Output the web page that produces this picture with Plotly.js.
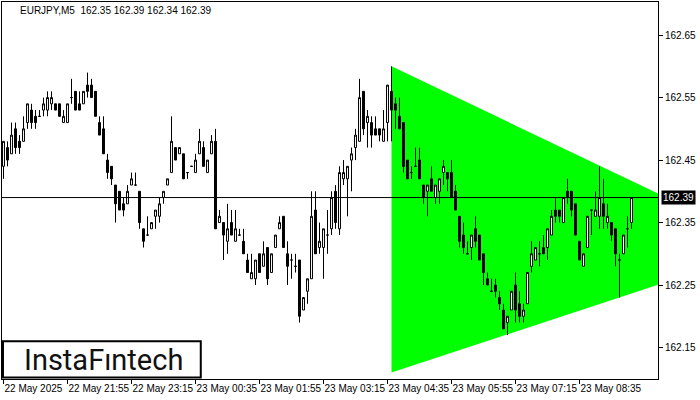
<!DOCTYPE html>
<html>
<head>
<meta charset="utf-8">
<script src="https://cdn.plot.ly/plotly-3.0.1.min.js"></script>
<style>html,body{margin:0;padding:0;background:#fff;}#chart{width:700px;height:400px;}</style>
</head>
<body>
<div id="chart"></div>
<script>
// ---- Data (EURJPY, M5) ----
const symbolTitle = "EURJPY,M5  162.35 162.39 162.34 162.39";
const barIndex = Array.from({length: 158}, (_, i) => i);
const openP = [
162.44,162.47,162.46,162.50,162.48,162.48,162.51,162.53,162.52,162.52,
162.53,162.53,162.54,162.54,162.54,162.51,162.51,162.55,162.56,162.54,
162.54,162.57,162.57,162.56,162.51,162.50,162.45,162.44,162.41,162.40,
162.38,162.38,162.41,162.41,162.40,162.34,162.33,162.34,162.36,162.36,
162.39,162.41,162.43,162.47,162.46,162.46,162.43,162.44,162.43,162.46,
162.47,162.43,162.46,162.48,162.35,162.35,162.32,162.35,162.32,162.33,
162.32,162.29,162.26,162.26,162.30,162.28,162.31,162.27,162.31,162.34,
162.36,162.30,162.29,162.28,162.29,162.21,162.24,162.26,162.37,162.31,
162.31,162.33,162.34,162.40,162.34,162.42,162.42,162.45,162.47,162.48,
162.56,162.51,162.51,162.50,162.50,162.48,162.51,162.56,162.54,162.52,
162.51,162.45,162.43,162.44,162.45,162.41,162.40,162.42,162.39,162.40,
162.43,162.43,162.43,162.40,162.36,162.33,162.30,162.31,162.34,162.33,
162.30,162.26,162.24,162.25,162.23,162.21,162.19,162.21,162.25,162.22,
162.20,162.22,162.28,162.29,162.30,162.31,162.31,162.33,162.37,162.37,
162.35,162.40,162.40,162.38,162.32,162.28,162.31,162.37,162.36,162.36,
162.38,162.35,162.35,162.34,162.29,162.30,162.34,162.35];
const highP = [
162.48,162.48,162.51,162.51,162.49,162.52,162.54,162.54,162.53,162.53,
162.55,162.56,162.56,162.54,162.54,162.53,162.54,162.58,162.56,162.56,
162.56,162.59,162.58,162.56,162.52,162.52,162.46,162.44,162.41,162.40,
162.39,162.41,162.43,162.43,162.40,162.34,162.36,162.35,162.37,162.39,
162.40,162.42,162.52,162.47,162.47,162.46,162.43,162.44,162.46,162.50,
162.48,162.45,162.49,162.50,162.37,162.35,162.38,162.37,162.37,162.34,
162.34,162.30,162.30,162.29,162.30,162.32,162.31,162.30,162.33,162.36,
162.36,162.32,162.30,162.30,162.29,162.23,162.26,162.40,162.40,162.35,
162.34,162.37,162.40,162.41,162.44,162.45,162.44,162.47,162.50,162.58,
162.56,162.53,162.52,162.52,162.50,162.53,162.57,162.60,162.55,162.55,
162.51,162.45,162.44,162.47,162.47,162.41,162.41,162.44,162.41,162.42,
162.45,162.43,162.45,162.41,162.36,162.35,162.32,162.33,162.36,162.33,
162.30,162.27,162.26,162.26,162.24,162.22,162.20,162.24,162.27,162.24,
162.22,162.27,162.32,162.31,162.32,162.33,162.34,162.37,162.39,162.37,
162.39,162.42,162.40,162.38,162.32,162.30,162.36,162.37,162.40,162.44,
162.42,162.38,162.35,162.34,162.30,162.33,162.36,162.39];
const lowP = [
162.42,162.44,162.46,162.46,162.46,162.48,162.50,162.50,162.50,162.52,
162.52,162.52,162.53,162.53,162.52,162.51,162.51,162.54,162.53,162.53,
162.54,162.55,162.55,162.52,162.49,162.46,162.42,162.41,162.35,162.37,
162.36,162.38,162.41,162.41,162.34,162.31,162.33,162.34,162.34,162.35,
162.38,162.41,162.43,162.45,162.46,162.42,162.42,162.44,162.43,162.46,
162.44,162.43,162.46,162.34,162.35,162.29,162.30,162.33,162.32,162.33,
162.30,162.27,162.26,162.25,162.27,162.28,162.25,162.27,162.31,162.34,
162.31,162.25,162.26,162.27,162.19,162.21,162.22,162.26,162.30,162.30,
162.26,162.30,162.33,162.34,162.33,162.41,162.36,162.40,162.45,162.48,
162.49,162.47,162.47,162.49,162.48,162.48,162.48,162.48,162.50,162.50,
162.43,162.42,162.42,162.44,162.42,162.38,162.36,162.40,162.38,162.38,
162.41,162.40,162.39,162.37,162.31,162.30,162.30,162.29,162.31,162.29,
162.25,162.25,162.24,162.23,162.21,162.18,162.17,162.21,162.19,162.19,
162.19,162.22,162.27,162.29,162.28,162.30,162.29,162.33,162.35,162.35,
162.35,162.38,162.36,162.33,162.29,162.28,162.31,162.33,162.36,162.34,
162.34,162.34,162.32,162.28,162.23,162.30,162.31,162.34];
const closeP = [
162.48,162.45,162.49,162.47,162.47,162.50,162.54,162.51,162.51,162.52,
162.54,162.55,162.55,162.53,162.52,162.52,162.54,162.55,162.53,162.53,
162.56,162.56,162.55,162.52,162.49,162.46,162.43,162.42,162.38,162.37,
162.37,162.40,162.42,162.41,162.35,162.32,162.33,162.35,162.37,162.38,
162.40,162.42,162.48,162.45,162.47,162.42,162.43,162.44,162.45,162.48,
162.44,162.45,162.48,162.34,162.36,162.33,162.34,162.33,162.34,162.33,
162.30,162.27,162.27,162.29,162.27,162.30,162.26,162.30,162.33,162.35,
162.31,162.28,162.29,162.28,162.20,162.23,162.26,162.36,162.30,162.32,
162.34,162.33,162.39,162.35,162.43,162.43,162.44,162.46,162.49,162.55,
162.50,162.52,162.49,162.49,162.49,162.50,162.57,162.53,162.53,162.50,
162.44,162.42,162.43,162.44,162.42,162.39,162.41,162.40,162.41,162.42,
162.44,162.42,162.39,162.37,162.32,162.31,162.30,162.33,162.32,162.29,
162.27,162.25,162.24,162.24,162.22,162.18,162.20,162.24,162.21,162.20,
162.21,162.27,162.30,162.31,162.30,162.30,162.34,162.36,162.36,162.36,
162.39,162.39,162.37,162.33,162.29,162.30,162.36,162.37,162.37,162.39,
162.36,162.36,162.33,162.30,162.29,162.33,162.34,162.39];

// Triangle pattern (bar index, price)
const triangleX = [97, 192, 97];
const triangleY = [162.60, 162.31, 162.11];

// Axis ticks
const timeTickIdx = [0, 16, 32, 48, 64, 80, 96, 112, 128, 144];
const timeTickText = ["22 May 2025","22 May 21:55","22 May 23:15","23 May 00:35","23 May 01:55",
                      "23 May 03:15","23 May 04:35","23 May 05:55","23 May 07:15","23 May 08:35"];
const priceTicks = [162.15, 162.25, 162.35, 162.45, 162.55, 162.65];
const lastPrice = 162.39;
const logoText = "InstaFıntech";

// ---- Traces ----
const candles = {
  type: 'candlestick', x: barIndex, open: openP, high: highP, low: lowP, close: closeP,
  increasing: {line: {color: '#000000', width: 1}, fillcolor: '#ffffff'},
  decreasing: {line: {color: '#000000', width: 1}, fillcolor: '#000000'},
  whiskerwidth: 0, hoverinfo: 'skip', showlegend: false
};

const triPath = triangleX.map((x, i) => (i === 0 ? 'M ' : 'L ') + x + ',' + triangleY[i]).join(' ') + ' Z';

const font = {family: 'Liberation Sans, Arial, sans-serif', size: 10, color: '#000'};
const layout = {
  width: 700, height: 400,
  margin: {l: 2, r: 42, t: 2, b: 21, pad: 0},
  paper_bgcolor: '#ffffff', plot_bgcolor: '#ffffff',
  showlegend: false, font: font,
  xaxis: {
    range: [-0.375, 163.625], tickmode: 'array', tickvals: timeTickIdx, ticktext: timeTickText,
    ticks: 'outside', ticklen: 4, tickcolor: '#000', tickwidth: 1, tickangle: 0,
    ticklabelposition: 'outside right', tickfont: font,
    showline: true, mirror: true, linecolor: '#000', linewidth: 1,
    showgrid: false, zeroline: false, rangeslider: {visible: false}, fixedrange: true
  },
  yaxis: {
    side: 'right', range: [162.0996, 162.703], tickmode: 'array', tickvals: priceTicks,
    tickformat: '.2f', ticks: 'outside', ticklen: 4, tickcolor: '#000', tickwidth: 1,
    tickfont: font, showline: true, mirror: true, linecolor: '#000', linewidth: 1,
    showgrid: false, zeroline: false, fixedrange: true
  },
  shapes: [
    {type: 'path', xref: 'x', yref: 'y', path: triPath, fillcolor: '#00ff00', opacity: 1,
     line: {width: 0}, layer: 'below'},
    {type: 'line', xref: 'paper', x0: 0, x1: 1, yref: 'y', y0: lastPrice, y1: lastPrice,
     line: {color: '#000', width: 1}, layer: 'above'},
    {type: 'rect', xref: 'paper', yref: 'paper', x0: 0.0015, x1: 0.303, y0: 0.004, y1: 0.1,
     line: {color: '#000', width: 2}, fillcolor: '#ffffff', layer: 'above'}
  ],
  annotations: [
    {xref: 'paper', yref: 'paper', x: 0.024, y: 0.997, xanchor: 'left', yanchor: 'top',
     text: symbolTitle, showarrow: false, font: {family: 'Liberation Sans, Arial, sans-serif', size: 10, color: '#000'}},
    {xref: 'paper', yref: 'y', x: 1, y: lastPrice, xanchor: 'left', yanchor: 'middle', xshift: 3,
     text: lastPrice.toFixed(2), showarrow: false, bgcolor: '#000', borderpad: 1,
     font: {family: 'Liberation Sans, Arial, sans-serif', size: 10, color: '#fff'}},
    {xref: 'paper', yref: 'paper', x: 0.155, y: 0.05, xanchor: 'center', yanchor: 'middle',
     text: logoText, showarrow: false, font: {family: 'Roboto, sans-serif', size: 29, color: '#111'}}
  ]
};

Plotly.newPlot('chart', [candles], layout, {staticPlot: true, displayModeBar: false});
</script>
</body>
</html>
